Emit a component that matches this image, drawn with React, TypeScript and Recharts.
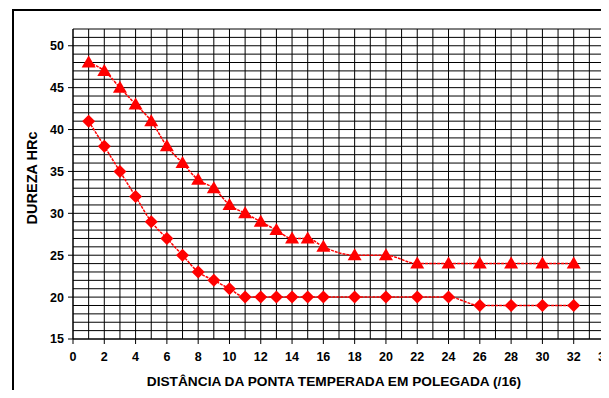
import React from 'react';
import { ComposedChart, Line, XAxis, YAxis, CartesianGrid } from 'recharts';

const distances = [1, 2, 3, 4, 5, 6, 7, 8, 9, 10, 11, 12, 13, 14, 15, 16, 18, 20, 22, 24, 26, 28, 30, 32];
const upperHardness = [48, 47, 45, 43, 41, 38, 36, 34, 33, 31, 30, 29, 28, 27, 27, 26, 25, 25, 24, 24, 24, 24, 24, 24];
const lowerHardness = [41, 38, 35, 32, 29, 27, 25, 23, 22, 21, 20, 20, 20, 20, 20, 20, 20, 20, 20, 20, 19, 19, 19, 19];

const xTicks = [0, 2, 4, 6, 8, 10, 12, 14, 16, 18, 20, 22, 24, 26, 28, 30, 32, 34];
const yTicks = [15, 20, 25, 30, 35, 40, 45, 50];
const X_DOMAIN = [0, 34];
const Y_DOMAIN = [15, 52];
const xGrid = Array.from({ length: 35 }, (_, i) => i);
const yGrid = Array.from({ length: 38 }, (_, i) => 15 + i);

const data = distances.map((d, i) => ({ d, upper: upperHardness[i], lower: lowerHardness[i] }));

const RED = '#ff0000';
const FONT = '"Liberation Sans", Arial, sans-serif';

const Triangle = (props: any) => {
  const { cx, cy } = props;
  if (cx == null || cy == null) return null;
  return <path d={`M${cx},${cy - 7}L${cx + 7},${cy + 5}L${cx - 7},${cy + 5}Z`} fill={RED} />;
};

const Diamond = (props: any) => {
  const { cx, cy } = props;
  if (cx == null || cy == null) return null;
  return <path d={`M${cx},${cy - 6.5}L${cx + 6.5},${cy}L${cx},${cy + 6.5}L${cx - 6.5},${cy}Z`} fill={RED} />;
};

// map domain values onto the plot box handed to the grid generators
const gridY = (p: any) => {
  const { top, height } = p.offset;
  return yGrid.map((v) => top + (height * (Y_DOMAIN[1] - v)) / (Y_DOMAIN[1] - Y_DOMAIN[0]));
};
const gridX = (p: any) => {
  const { left, width } = p.offset;
  return xGrid.map((v) => left + (width * (v - X_DOMAIN[0])) / (X_DOMAIN[1] - X_DOMAIN[0]));
};

const tickStyle = { fontFamily: FONT, fontSize: 12.5, fontWeight: 'bold', fill: '#000' };
const titleStyle = { fontFamily: FONT, fontSize: 13.7, fontWeight: 'bold' };

export default function App() {
  return (
    <div style={{ position: 'relative', width: 609, height: 398, margin: -8, overflow: 'hidden', background: '#fff' }}>
      <div
        style={{
          position: 'absolute', left: 12, top: 9, width: 640, height: 420,
          border: '2px solid #000', boxSizing: 'border-box',
        }}
      />
      <ComposedChart
        width={609}
        height={398}
        data={data}
        margin={{ top: 29, right: 4, bottom: 29, left: 0 }}
        style={{ position: 'absolute', left: 0, top: 0 }}
      >
        <CartesianGrid
          stroke="#000"
          strokeWidth={1}
          horizontalCoordinatesGenerator={gridY}
          verticalCoordinatesGenerator={gridX}
        />
        <XAxis
          dataKey="d"
          type="number"
          domain={X_DOMAIN}
          ticks={xTicks}
          interval={0}
          height={30}
          axisLine={{ stroke: '#000' }}
          tickLine={{ stroke: '#000' }}
          tickSize={5}
          tickMargin={8}
          tick={tickStyle}
          allowDecimals={false}
        />
        <YAxis
          type="number"
          domain={Y_DOMAIN}
          ticks={yTicks}
          interval={0}
          width={73}
          axisLine={{ stroke: '#000' }}
          tickLine={{ stroke: '#000' }}
          tickSize={5}
          tickMargin={4}
          tick={tickStyle}
        />
        <Line
          dataKey="upper"
          type="monotone"
          stroke={RED}
          strokeWidth={1.5}
          strokeDasharray="3 1"
          dot={<Triangle />}
          activeDot={false}
          isAnimationActive={false}
        />
        <Line
          dataKey="lower"
          type="monotone"
          stroke={RED}
          strokeWidth={1.5}
          strokeDasharray="3 1"
          dot={<Diamond />}
          activeDot={false}
          isAnimationActive={false}
        />
        <text x={334} y={386} textAnchor="middle" style={titleStyle} fill="#000">
          DISTÂNCIA DA PONTA TEMPERADA EM POLEGADA (/16)
        </text>
        <text
          x={37}
          y={178}
          textAnchor="middle"
          transform="rotate(-90 37 178)"
          style={{ ...titleStyle, fontSize: 14.5 }}
          fill="#000"
        >
          DUREZA HRc
        </text>
      </ComposedChart>
    </div>
  );
}
